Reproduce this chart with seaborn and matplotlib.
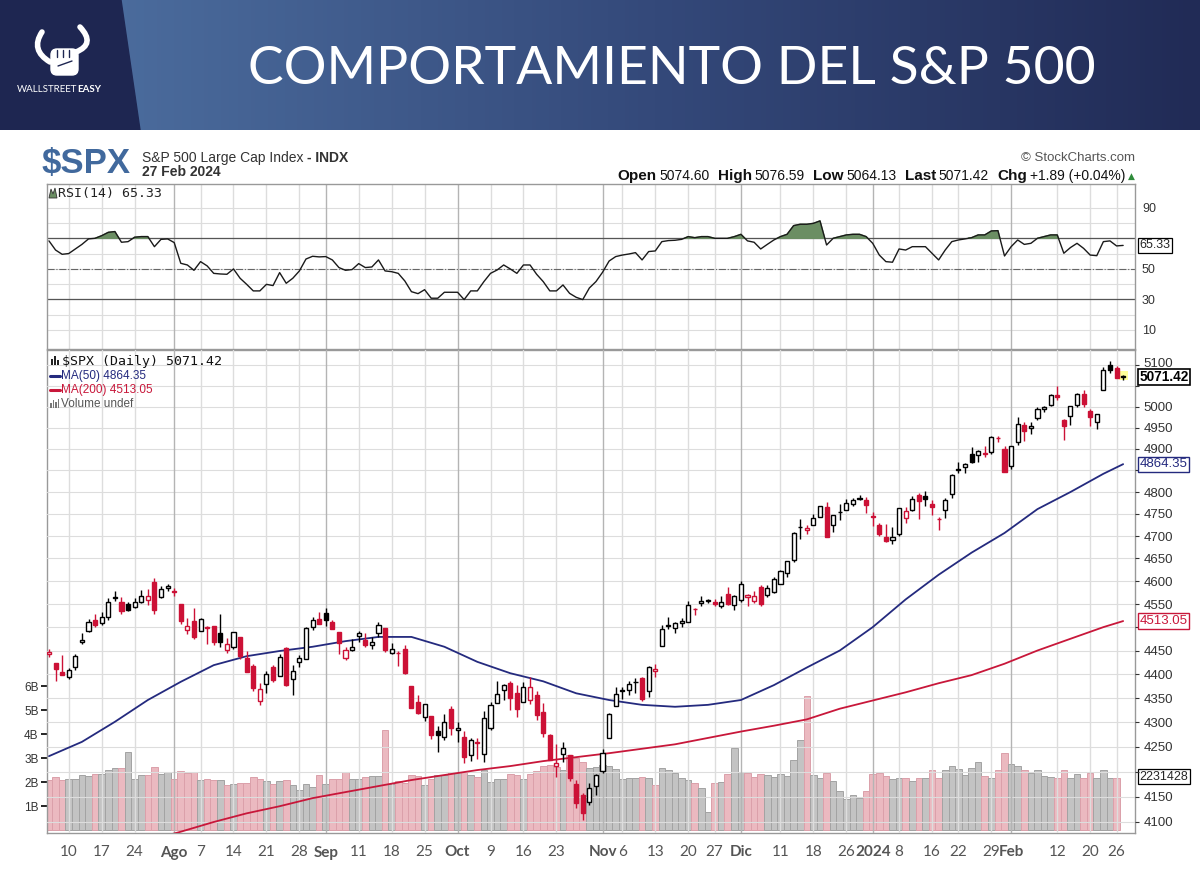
import numpy as np
import pandas as pd
import matplotlib
matplotlib.use('Agg')
import matplotlib.pyplot as plt
import matplotlib.patches as mpatches
from matplotlib.path import Path
from matplotlib.colors import LinearSegmentedColormap
from matplotlib.transforms import ScaledTranslation
import seaborn as sns

sns.set_style('white')
plt.rcParams['font.family'] = ['DejaVu Sans']

# ---- data ----
holidays = ['2023-09-04', '2023-11-23', '2023-12-25', '2024-01-01', '2024-01-15', '2024-02-19']
dates = pd.bdate_range('2023-07-05', '2024-02-27', freq='C', holidays=holidays)
prev_close0 = 4455.6  # close of Jul 3, only used to colour the first candle

opens = [4442.0, 4422.6, 4404.5, 4394.2, 4415.5, 4467.7, 4491.5, 4514.6, 4508.9, 4521.8, 4563.9, 4554.4, 4550.2, 4543.4, 4555.2, 4558.9, 4598.3, 4565.8, 4584.8,
         4578.8, 4550.9, 4494.3, 4513.9, 4491.6, 4498.0, 4501.6, 4487.2, 4450.7, 4458.1, 4478.9, 4433.8, 4416.3, 4344.9, 4380.3, 4415.3, 4396.4, 4455.2, 4389.4, 4426.0, 4432.8, 4500.3, 4517.0,
         4530.6, 4510.1, 4490.4, 4434.6, 4451.3, 4480.9, 4473.3, 4462.6, 4487.8, 4497.9, 4445.1, 4445.4, 4452.8, 4374.4, 4341.7, 4310.6, 4312.9, 4282.6, 4269.6, 4328.2,
         4284.5, 4269.8, 4233.8, 4259.3, 4234.8, 4289.0, 4339.8, 4366.6, 4380.9, 4360.5, 4342.4, 4345.2, 4357.4, 4321.4, 4273.9, 4210.4, 4235.8, 4232.4, 4176.0, 4152.9, 4139.4, 4171.3,
         4201.3, 4268.3, 4334.2, 4364.3, 4366.2, 4384.4, 4391.4, 4364.2, 4406.7, 4459.0, 4505.3, 4497.1, 4509.6, 4511.7, 4538.8, 4553.0, 4555.8, 4554.9, 4545.6, 4571.8, 4548.0,
         4559.4, 4564.4, 4557.3, 4586.2, 4568.8, 4576.2, 4593.4, 4618.3, 4646.2, 4721.0, 4714.2, 4725.6, 4743.7, 4764.7, 4724.3, 4753.9, 4758.9, 4773.5, 4786.4, 4782.9,
         4745.2, 4725.1, 4697.4, 4690.6, 4703.7, 4741.9, 4759.9, 4792.1, 4791.2, 4772.4, 4739.1, 4760.1, 4796.3, 4853.4, 4856.8, 4888.6, 4886.7, 4888.9, 4893.0, 4925.9, 4899.2,
         4861.1, 4916.1, 4957.2, 4950.2, 4973.1, 4995.2, 5004.2, 5026.8, 4967.9, 4976.4, 5003.1, 5031.1, 4989.3, 4963.0, 5038.8, 5100.9, 5093.0, 5074.6]
highs = [4454.1, 4422.6, 4440.4, 4412.6, 4443.6, 4488.3, 4517.4, 4527.8, 4532.9, 4562.3, 4578.4, 4564.7, 4555.0, 4563.4, 4580.6, 4582.5, 4607.1, 4590.2, 4594.2,
         4584.6, 4550.9, 4519.5, 4540.3, 4519.8, 4503.3, 4502.4, 4527.4, 4476.2, 4490.3, 4478.9, 4449.9, 4421.2, 4381.8, 4407.6, 4418.6, 4443.2, 4458.3, 4418.5, 4439.6, 4500.1, 4521.7, 4532.3,
         4541.3, 4514.3, 4490.4, 4457.8, 4473.5, 4490.8, 4487.1, 4479.4, 4511.0, 4497.9, 4466.4, 4449.9, 4461.0, 4375.7, 4357.4, 4338.5, 4313.0, 4292.1, 4317.3, 4333.2,
         4300.6, 4281.2, 4268.5, 4267.1, 4324.1, 4341.7, 4385.5, 4378.6, 4385.9, 4377.1, 4383.3, 4393.6, 4364.2, 4339.5, 4276.6, 4255.8, 4259.4, 4232.4, 4183.6, 4156.7, 4177.5, 4195.6,
         4245.6, 4319.7, 4373.6, 4372.2, 4386.3, 4391.2, 4393.4, 4418.0, 4421.8, 4504.1, 4521.2, 4512.0, 4520.1, 4557.1, 4542.1, 4568.4, 4560.3, 4560.5, 4568.1, 4587.6, 4569.9,
         4599.4, 4572.4, 4578.6, 4590.7, 4590.9, 4609.2, 4623.7, 4643.9, 4709.7, 4738.6, 4725.5, 4749.5, 4768.7, 4778.0, 4748.7, 4772.9, 4784.7, 4785.4, 4793.3, 4788.4,
         4754.3, 4729.3, 4726.8, 4721.5, 4764.5, 4765.5, 4790.8, 4798.5, 4802.4, 4782.3, 4744.2, 4785.8, 4842.1, 4868.4, 4866.5, 4903.7, 4898.2, 4906.7, 4929.3, 4931.1, 4906.8,
         4907.0, 4975.3, 4964.0, 4963.1, 4999.9, 5000.4, 5030.1, 5048.4, 4971.3, 5002.5, 5032.7, 5038.7, 4993.6, 4983.2, 5094.4, 5111.1, 5097.7, 5076.6]
lows = [4436.6, 4385.1, 4397.4, 4389.9, 4408.5, 4463.2, 4489.4, 4499.6, 4504.9, 4514.6, 4557.5, 4527.6, 4535.8, 4541.3, 4552.4, 4547.6, 4528.6, 4564.0, 4577.4,
        4567.5, 4505.8, 4485.5, 4474.6, 4491.2, 4464.4, 4461.3, 4457.9, 4443.9, 4453.4, 4432.2, 4403.6, 4364.8, 4335.3, 4360.3, 4382.8, 4396.4, 4375.6, 4356.3, 4414.9, 4431.7, 4493.6, 4507.4,
        4501.4, 4496.0, 4442.4, 4430.5, 4448.4, 4467.9, 4456.8, 4453.5, 4478.7, 4447.2, 4442.1, 4416.6, 4401.4, 4329.2, 4316.5, 4302.7, 4265.9, 4238.6, 4264.4, 4274.9,
        4260.2, 4216.5, 4220.5, 4225.9, 4219.6, 4283.8, 4339.6, 4345.3, 4325.4, 4311.1, 4342.4, 4337.5, 4303.8, 4269.7, 4223.0, 4189.2, 4219.4, 4181.4, 4127.9, 4103.8, 4132.9, 4153.1,
        4197.7, 4268.3, 4334.2, 4347.5, 4355.4, 4359.8, 4343.9, 4353.3, 4393.8, 4459.0, 4495.3, 4487.8, 4499.7, 4510.4, 4525.5, 4545.1, 4552.8, 4546.3, 4540.5, 4547.2, 4537.2,
        4554.7, 4546.7, 4551.7, 4546.5, 4565.2, 4574.1, 4593.4, 4608.1, 4643.2, 4694.3, 4704.7, 4725.6, 4743.7, 4697.8, 4708.4, 4736.8, 4758.5, 4768.9, 4781.0, 4752.0,
        4722.7, 4699.7, 4687.5, 4682.1, 4699.8, 4730.4, 4756.2, 4739.6, 4769.0, 4747.1, 4714.8, 4740.6, 4785.9, 4844.1, 4844.4, 4865.9, 4869.3, 4881.5, 4887.4, 4917.0, 4845.2,
        4853.5, 4908.0, 4918.1, 4934.1, 4969.1, 4987.1, 5000.3, 5016.3, 4920.3, 4956.2, 4999.4, 4999.5, 4955.0, 4946.0, 5038.8, 5081.5, 5068.9, 5064.1]
closes = [4446.8, 4411.6, 4399.0, 4409.5, 4439.3, 4472.2, 4510.0, 4505.4, 4522.8, 4555.0, 4565.7, 4534.9, 4536.3, 4554.6, 4567.5, 4566.8, 4537.4, 4582.2, 4589.0,
          4576.7, 4513.4, 4501.9, 4478.0, 4518.4, 4499.4, 4467.7, 4468.8, 4464.1, 4489.7, 4437.9, 4404.3, 4370.4, 4369.7, 4399.8, 4387.6, 4436.0, 4376.3, 4405.7, 4433.3, 4497.6, 4514.9, 4507.7,
          4515.8, 4496.8, 4465.5, 4451.1, 4457.5, 4487.5, 4461.9, 4467.4, 4505.1, 4450.3, 4453.5, 4444.0, 4402.2, 4330.0, 4320.1, 4337.4, 4273.5, 4274.5, 4299.7, 4288.1,
          4288.4, 4229.5, 4263.8, 4258.2, 4308.5, 4335.7, 4358.2, 4377.0, 4349.6, 4327.8, 4373.6, 4373.2, 4314.6, 4278.0, 4224.2, 4217.0, 4247.7, 4186.8, 4137.2, 4117.4, 4166.8, 4193.8,
          4237.9, 4317.8, 4358.3, 4366.0, 4378.4, 4382.8, 4347.4, 4415.2, 4411.6, 4495.7, 4502.9, 4508.2, 4514.0, 4547.4, 4538.2, 4556.6, 4559.3, 4550.4, 4554.9, 4550.6, 4567.8,
          4594.6, 4569.8, 4567.2, 4549.3, 4585.6, 4604.4, 4622.4, 4643.7, 4707.1, 4719.6, 4719.2, 4740.6, 4768.4, 4698.4, 4746.8, 4754.6, 4774.8, 4781.6, 4783.4, 4769.8,
          4742.8, 4704.8, 4688.7, 4697.2, 4763.5, 4756.5, 4783.5, 4780.2, 4783.8, 4766.0, 4739.2, 4780.9, 4839.8, 4850.4, 4864.6, 4868.6, 4894.2, 4891.0, 4927.9, 4925.0, 4845.7,
          4906.2, 4958.6, 4942.8, 4954.2, 4995.1, 4997.9, 5026.6, 5021.8, 4953.2, 5000.6, 5029.7, 5005.6, 4975.5, 4981.8, 5087.0, 5088.8, 5069.5, 5071.4]
# volume in billions (last day undefined)
volume_b = [2.08, 2.22, 2.11, 2.13, 2.15, 2.32, 2.26, 2.35, 2.36, 2.51, 2.60, 2.60, 3.26, 2.15, 2.32, 2.32, 2.64, 2.36, 2.43,
            2.15, 2.47, 2.40, 2.43, 2.08, 2.15, 2.08, 2.10, 1.90, 1.94, 1.99, 1.99, 2.22, 2.13, 2.06, 1.94, 2.06, 2.08, 1.88, 1.67, 1.94, 1.81, 2.32,
            1.94, 2.15, 2.15, 2.43, 2.13, 2.15, 2.22, 2.26, 2.26, 4.17, 1.94, 2.04, 1.99, 2.32, 2.26, 1.88, 2.15, 2.32, 2.29, 2.43,
            2.43, 2.43, 2.32, 2.22, 2.50, 2.01, 2.15, 2.15, 2.36, 2.29, 2.15, 2.36, 2.46, 2.67, 2.71, 2.64, 2.50, 3.13, 2.99, 2.85, 2.61, 2.65,
            2.72, 2.68, 2.54, 2.12, 2.19, 2.19, 2.23, 2.19, 1.88, 2.58, 2.50, 2.37, 2.16, 2.09, 1.95, 1.77, 0.76, 1.95, 2.01, 2.33, 3.42,
            2.43, 2.40, 2.22, 2.33, 2.30, 2.22, 2.33, 2.26, 2.93, 3.76, 5.58, 2.30, 2.19, 2.37, 2.05, 1.65, 1.32, 1.46, 1.35, 1.65,
            2.33, 2.37, 2.26, 2.12, 2.19, 2.16, 2.05, 2.19, 2.16, 2.50, 2.19, 2.50, 2.66, 2.54, 2.30, 2.58, 2.85, 2.26, 2.19, 2.50, 3.20,
            2.75, 2.68, 2.50, 2.40, 2.50, 2.26, 2.22, 2.16, 2.50, 2.19, 2.33, 2.19, 2.37, 2.16, 2.50, 2.16, 2.16, None]
rsi14 = [68.3, 62.3, 59.5, 60.0, 63.0, 66.0, 69.6, 70.0, 71.7, 73.9, 74.4, 67.4, 67.8, 70.7, 71.1, 71.1, 64.5, 69.3, 69.6,
         67.2, 53.6, 52.5, 49.0, 54.7, 51.9, 47.0, 46.6, 46.4, 49.9, 43.8, 39.8, 35.5, 35.5, 39.8, 39.0, 47.5, 40.5, 43.8, 48.6, 56.4, 58.2, 57.8,
         58.0, 55.8, 50.8, 49.0, 49.5, 53.4, 50.8, 51.2, 55.8, 48.6, 48.1, 47.0, 42.0, 35.0, 33.7, 36.3, 30.7, 30.7, 34.6, 34.6,
         34.6, 29.8, 35.5, 35.5, 41.6, 47.0, 49.2, 52.5, 49.9, 47.0, 52.5, 52.5, 46.4, 41.6, 35.5, 35.5, 39.4, 33.9, 31.3, 29.8, 37.4, 41.6,
         47.7, 55.1, 58.0, 59.0, 59.7, 60.6, 55.8, 61.3, 61.7, 67.8, 68.5, 68.7, 69.3, 71.1, 70.4, 71.1, 71.1, 70.0, 70.0, 70.0, 71.1,
         72.6, 68.3, 67.4, 63.0, 66.0, 68.9, 71.1, 72.6, 78.3, 79.2, 79.2, 79.8, 81.4, 65.6, 70.0, 71.1, 72.2, 72.6, 72.6, 71.1,
         66.7, 59.0, 54.7, 54.3, 63.0, 62.3, 64.5, 64.5, 64.5, 60.2, 55.8, 62.3, 67.8, 68.9, 69.6, 70.4, 72.2, 72.2, 74.8, 75.0, 58.4,
         64.5, 68.9, 66.0, 66.7, 70.0, 71.1, 72.2, 72.2, 60.2, 63.9, 66.7, 63.4, 59.0, 58.6, 67.8, 68.3, 65.0, 65.33]
# moving averages read every 5th trading day plus the last day
ma50 = [4231, 4260, 4301, 4346, 4384, 4419, 4438, 4449, 4458, 4470, 4479, 4479, 4458, 4426, 4402, 4385, 4360,
        4346, 4336, 4332, 4336, 4346, 4377, 4414, 4450, 4500, 4560, 4614, 4663, 4707, 4761, 4800, 4842, 4864.35]
ma200 = [4010, 4028, 4046, 4064, 4081, 4100, 4117, 4131, 4147, 4159, 4171, 4183, 4193, 4203, 4211, 4221, 4229,
         4237, 4246, 4255, 4268, 4281, 4293, 4306, 4328, 4345, 4362, 4381, 4398, 4422, 4450, 4475, 4500, 4513.05]

tick_dates = ['2023-07-10', '2023-07-17', '2023-07-24', '2023-08-01', '2023-08-07', '2023-08-14', '2023-08-21',
              '2023-08-28', '2023-09-01', '2023-09-11', '2023-09-18', '2023-09-25', '2023-10-02', '2023-10-09',
              '2023-10-16', '2023-10-23', '2023-11-01', '2023-11-06', '2023-11-13', '2023-11-20', '2023-11-27',
              '2023-12-01', '2023-12-11', '2023-12-18', '2023-12-26', '2024-01-02', '2024-01-08', '2024-01-16',
              '2024-01-22', '2024-01-29', '2024-02-01', '2024-02-12', '2024-02-20', '2024-02-26']
tick_labels = ['10', '17', '24', 'Ago', '7', '14', '21', '28', 'Sep', '11', '18', '25', 'Oct', '9', '16', '23',
               'Nov', '6', '13', '20', '27', 'Dic', '11', '18', '26', '2024', '8', '16', '22', '29', 'Feb', '12', '20', '26']
month_labels = {'Ago', 'Sep', 'Oct', 'Nov', 'Dic', '2024', 'Feb'}
price_ticks = list(range(4100, 5101, 50))
covered_ticks = {4200, 4500, 4850, 5050}  # hidden behind the value boxes in the original

# ---- colours ----
RED = '#cc1136'
NAVY = '#242a7e'
MA_RED = '#c8173a'
GRID = '#dddddd'
GRID_M = '#b4b4b4'

pos = np.arange(len(dates))
o = np.array(opens); h = np.array(highs); l = np.array(lows); c = np.array(closes)
prev = np.concatenate([[prev_close0], c[:-1]])
up_day = c >= prev
edge = np.where(up_day, 'black', RED)
fill = np.where(c >= o, 'white', edge)
tick_pos = [dates.get_loc(pd.Timestamp(d)) for d in tick_dates]
ma_pos = list(range(0, len(dates), 5)) + [len(dates) - 1]

W, H = 1200, 869
fig = plt.figure(figsize=(W / 100, H / 100), dpi=100)
fig.patch.set_facecolor('white')

# ---- header banner ----
ax_h = fig.add_axes([0, 1 - 130 / H, 1, 130 / H])
ax_h.set_xlim(0, W); ax_h.set_ylim(130, 0); ax_h.axis('off')
hdr = LinearSegmentedColormap.from_list('hdr', ['#4b6c9d', '#34497a', '#212b56'])
ax_h.imshow(np.linspace(0, 1, 256).reshape(1, -1), extent=(110, W, 130, 0), aspect='auto', cmap=hdr)
ax_h.add_patch(mpatches.Polygon([(0, 0), (121, 0), (140, 130), (0, 130)], closed=True, color='#1e2651'))
ax_h.text(672, 70, 'COMPORTAMIENTO DEL S&P 500', color='white', fontsize=38.5, family=['Lato', 'DejaVu Sans'],
          fontweight='normal', ha='center', va='center')
# logo: horns + fist
for verts in ([(50, 62), (30, 50), (42, 32)], [(76, 52), (96, 44), (80, 27)]):
    ax_h.add_patch(mpatches.PathPatch(Path(verts, [Path.MOVETO, Path.CURVE3, Path.CURVE3]),
                                      fc='none', ec='white', lw=4, capstyle='round'))
ax_h.add_patch(mpatches.FancyBboxPatch((52, 50), 25, 24, boxstyle='round,pad=1,rounding_size=6', fc='white', ec='white'))
for kx in (57, 63, 69):
    ax_h.plot([kx, kx], [50, 57], color='#1e2651', lw=1)
ax_h.plot([58, 72], [66, 61], color='#1e2651', lw=1)
t_ws = ax_h.text(17, 89, 'WALLSTREET', color='white', fontsize=7, family=['Lato', 'DejaVu Sans'], va='center')
ax_h.annotate('EASY', xy=(1, 0.5), xycoords=t_ws, va='center', color='white', fontsize=7,
              fontweight='bold', family=['Lato', 'DejaVu Sans'])

# ---- RSI panel ----
ax_r = fig.add_axes([47 / W, 1 - 349 / H, 1088 / W, 165 / H])
ax_r.set_xlim(-0.3, 164.8)
ax_r.set_ylim(-2.6, 105.6)
rsi = np.array(rsi14)
for v in range(10, 100, 10):
    ax_r.axhline(v, color=GRID, lw=0.8, zorder=0)
for p, lab in zip(tick_pos, tick_labels):
    ax_r.axvline(p, color=GRID_M if lab in month_labels else GRID, lw=1, zorder=0)
ax_r.axhline(70, color='#555555', lw=0.9, zorder=1)
ax_r.axhline(30, color='#555555', lw=0.9, zorder=1)
ax_r.axhline(50, color='#666666', lw=0.8, ls='-.', zorder=1)
ax_r.fill_between(pos, rsi, 70, where=rsi > 70, interpolate=True, color='#6b8e63', zorder=2)
sns.lineplot(x=pos, y=rsi, ax=ax_r, color='#1a1a1a', lw=1, zorder=3)
ax_r.set_xticks([])
ax_r.yaxis.tick_right()
ax_r.set_yticks([10, 30, 50, 70, 90])
ax_r.set_yticklabels(['10', '30', '50', '', '90'])
ax_r.tick_params(axis='y', length=0, pad=5, labelsize=9, labelcolor='#333333')
for lab in ax_r.get_yticklabels():
    lab.set_family(['Liberation Sans', 'DejaVu Sans'])
ax_r.set_ylabel(''); ax_r.set_xlabel('')
for s in ax_r.spines.values():
    s.set_color('#999999'); s.set_linewidth(1)
ax_r.text(1.004, 65.33, '65.33', transform=ax_r.get_yaxis_transform(), va='center', ha='left', fontsize=9,
          family=['Liberation Sans', 'DejaVu Sans'],
          bbox=dict(boxstyle='square,pad=0.12', fc='white', ec='black', lw=0.9), zorder=10, clip_on=False)

# ---- price panel (volume underneath on its own axis) ----
ax_v = fig.add_axes([47 / W, 1 - 833 / H, 1088 / W, 483 / H])
ax_p = ax_v.twinx()
ax_v.set_xlim(-0.3, 164.8)
ax_v.set_ylim(-0.1125, 20.0)
ok = np.array([v is not None for v in volume_b])
vol = np.array([v if v is not None else 0 for v in volume_b], dtype=float)
ax_v.bar(pos[ok], vol[ok], width=1.0, color=np.where(up_day, '#c3c3c3', '#ebb9c0')[ok],
         edgecolor=np.where(up_day, '#a3a3a3', '#dba0aa')[ok], lw=0.7, zorder=1)
ax_v.set_yticks([1, 2, 3, 4, 5, 6])
ax_v.set_yticklabels(['1B', '2B', '3B', '4B', '5B', '6B'])
ax_v.tick_params(axis='y', length=4, width=1.2, color='black', pad=2, labelsize=8.5, labelcolor='#333333')
for lab in ax_v.get_yticklabels():
    lab.set_family(['Liberation Sans', 'DejaVu Sans'])
ax_v.set_xticks(tick_pos)
ax_v.set_xticklabels(tick_labels)
ax_v.tick_params(axis='x', length=0, pad=9, labelsize=11, labelcolor='#555555')
for lab in ax_v.get_xticklabels():
    lab.set_family(['Lato', 'DejaVu Sans'])
    if lab.get_text() in month_labels:
        lab.set_fontweight('bold')
for s in ax_v.spines.values():
    s.set_color('#999999'); s.set_linewidth(1)
ax_v.text(1.004, 2.23, '2231428', transform=ax_v.get_yaxis_transform(), va='center', ha='left', fontsize=9,
          family=['Liberation Sans', 'DejaVu Sans'],
          bbox=dict(boxstyle='square,pad=0.12', fc='white', ec='black', lw=0.9), zorder=10, clip_on=False)

ax_p.set_yscale('log')
ax_p.set_ylim(4078.5, 5137)
ax_p.set_xlim(-0.3, 164.8)
for v in price_ticks:
    ax_p.axhline(v, color=GRID, lw=0.8, zorder=0)
for p, lab in zip(tick_pos, tick_labels):
    ax_p.axvline(p, color=GRID_M if lab in month_labels else GRID, lw=1, zorder=0)

sns.lineplot(x=ma_pos, y=ma50, ax=ax_p, color=NAVY, lw=1.3, zorder=3)
sns.lineplot(x=ma_pos, y=ma200, ax=ax_p, color=MA_RED, lw=1.3, zorder=3)

# candles
ax_p.add_patch(mpatches.Rectangle((pos[-1] - 0.7, 5063), 1.4, 22, fc='#ffff99', ec='none', zorder=3.5))
ax_p.vlines(pos, l, h, colors=edge, lw=1, zorder=4)
body_lo = np.minimum(o, c)
body_h = np.maximum(np.abs(c - o), 0.4)
ax_p.bar(pos, body_h, bottom=body_lo, width=0.62, color=fill, edgecolor=edge, lw=1, zorder=5)

ax_p.yaxis.set_minor_locator(matplotlib.ticker.NullLocator())
ax_p.set_yticks(price_ticks)
ax_p.set_yticklabels(['' if v in covered_ticks else str(v) for v in price_ticks])
ax_p.tick_params(axis='y', length=3, color='#333333', pad=3, labelsize=9.5, labelcolor='#333333')
for lab in ax_p.get_yticklabels():
    lab.set_family(['Liberation Sans', 'DejaVu Sans'])
    if lab.get_text() == '5100':
        lab.set_transform(lab.get_transform() + ScaledTranslation(0, 3 / 100, fig.dpi_scale_trans))
ax_p.set_ylabel(''); ax_p.set_xlabel('')
for s in ax_p.spines.values():
    s.set_visible(False)

ytr = ax_p.get_yaxis_transform()
box_kw = dict(transform=ytr, va='center', ha='left', family=['Liberation Sans', 'DejaVu Sans'], zorder=10, clip_on=False)
ax_p.text(1.004, 5071.42, '5071.42', fontsize=9.8, fontweight='bold', color='black',
          bbox=dict(boxstyle='square,pad=0.08', fc='white', ec='black', lw=1.2), **box_kw)
ax_p.text(1.004, 4864.35, '4864.35', fontsize=9.5, color=NAVY,
          bbox=dict(boxstyle='square,pad=0.12', fc='white', ec=NAVY, lw=1), **box_kw)
ax_p.text(1.004, 4513.05, '4513.05', fontsize=9.5, color=MA_RED,
          bbox=dict(boxstyle='square,pad=0.12', fc='white', ec=MA_RED, lw=1), **box_kw)

# ---- free text on a transparent overlay in pixel coordinates ----
ax_t = fig.add_axes([0, 0, 1, 1], zorder=20)
ax_t.set_xlim(0, W); ax_t.set_ylim(H, 0); ax_t.axis('off')
ax_t.patch.set_alpha(0)
SANS = ['Liberation Sans', 'DejaVu Sans']
NARROW = ['Liberation Sans Narrow', 'Liberation Sans', 'DejaVu Sans']
ax_t.text(42, 164, '$SPX', fontsize=25, fontweight='bold', color='#41699d', family=SANS, va='center')
t1 = ax_t.text(142, 158, 'S&P 500 Large Cap Index ', fontsize=10, color='#333333', family=SANS, va='center')
ax_t.annotate('- INDX', xy=(1, 0.5), xycoords=t1, va='center', fontsize=10, fontweight='bold', color='#333333', family=SANS)
ax_t.text(142, 172, '27 Feb 2024', fontsize=10, fontweight='bold', color='#333333', family=SANS, va='center')
ax_t.text(1135, 158, '\u00a9 StockCharts.com', fontsize=9.5, color='#555555', family=NARROW, va='center', ha='right')

pieces = [('Open', True), ('5074.60', False), ('High', True), ('5076.59', False), ('Low', True), ('5064.13', False),
          ('Last', True), ('5071.42', False), ('Chg', True), ('+1.89 (+0.04%)', False)]
last = ax_t.text(1135, 176, '\u25b2', fontsize=6.5, color='#2e8b3a', family=['DejaVu Sans'], va='center', ha='right')
for i, (txt, bold) in enumerate(reversed(pieces)):
    gap = -3 if i == 0 else (-3 if bold else -8)
    last = ax_t.annotate(txt, xy=(0, 0.5), xycoords=last, xytext=(gap, 0), textcoords='offset pixels',
                         va='center', ha='right', fontsize=11 if bold else 10,
                         fontweight='bold' if bold else 'normal', color='#111111',
                         family=SANS if bold else NARROW)

ax_t.text(58, 193, 'RSI(14) 65.33', fontsize=9.5, family=['DejaVu Sans Mono'], color='#222222', va='center')
ax_t.add_patch(mpatches.Polygon([(49, 198), (51, 189), (53, 194), (55, 188), (57, 198)], closed=True,
                                fc='#6b8e63', ec='#333333', lw=0.6))
ax_t.text(62, 361, '$SPX (Daily) 5071.42', fontsize=9.5, family=['DejaVu Sans Mono'], color='#111111', va='center')
for k, hh in enumerate([6, 9, 5]):
    ax_t.add_patch(mpatches.Rectangle((51 + 3 * k, 365 - hh), 2, hh, fc='#222222', ec='none'))
ax_t.plot([50, 60], [376, 376], color=NAVY, lw=2.2)
ax_t.text(61, 376, 'MA(50) 4864.35', fontsize=8.5, color=NAVY, family=SANS, va='center')
ax_t.plot([50, 60], [390, 390], color=MA_RED, lw=2.2)
ax_t.text(61, 390, 'MA(200) 4513.05', fontsize=8.5, color=MA_RED, family=SANS, va='center')
for k, hh in enumerate([5, 8, 6, 9]):
    ax_t.add_patch(mpatches.Rectangle((50 + 2.5 * k, 408 - hh), 1.8, hh, fc='#777777', ec='none'))
ax_t.text(61, 404, 'Volume undef', fontsize=8.5, color='#555555', family=SANS, va='center')

fig.savefig('out.png', dpi=100, facecolor='white')
